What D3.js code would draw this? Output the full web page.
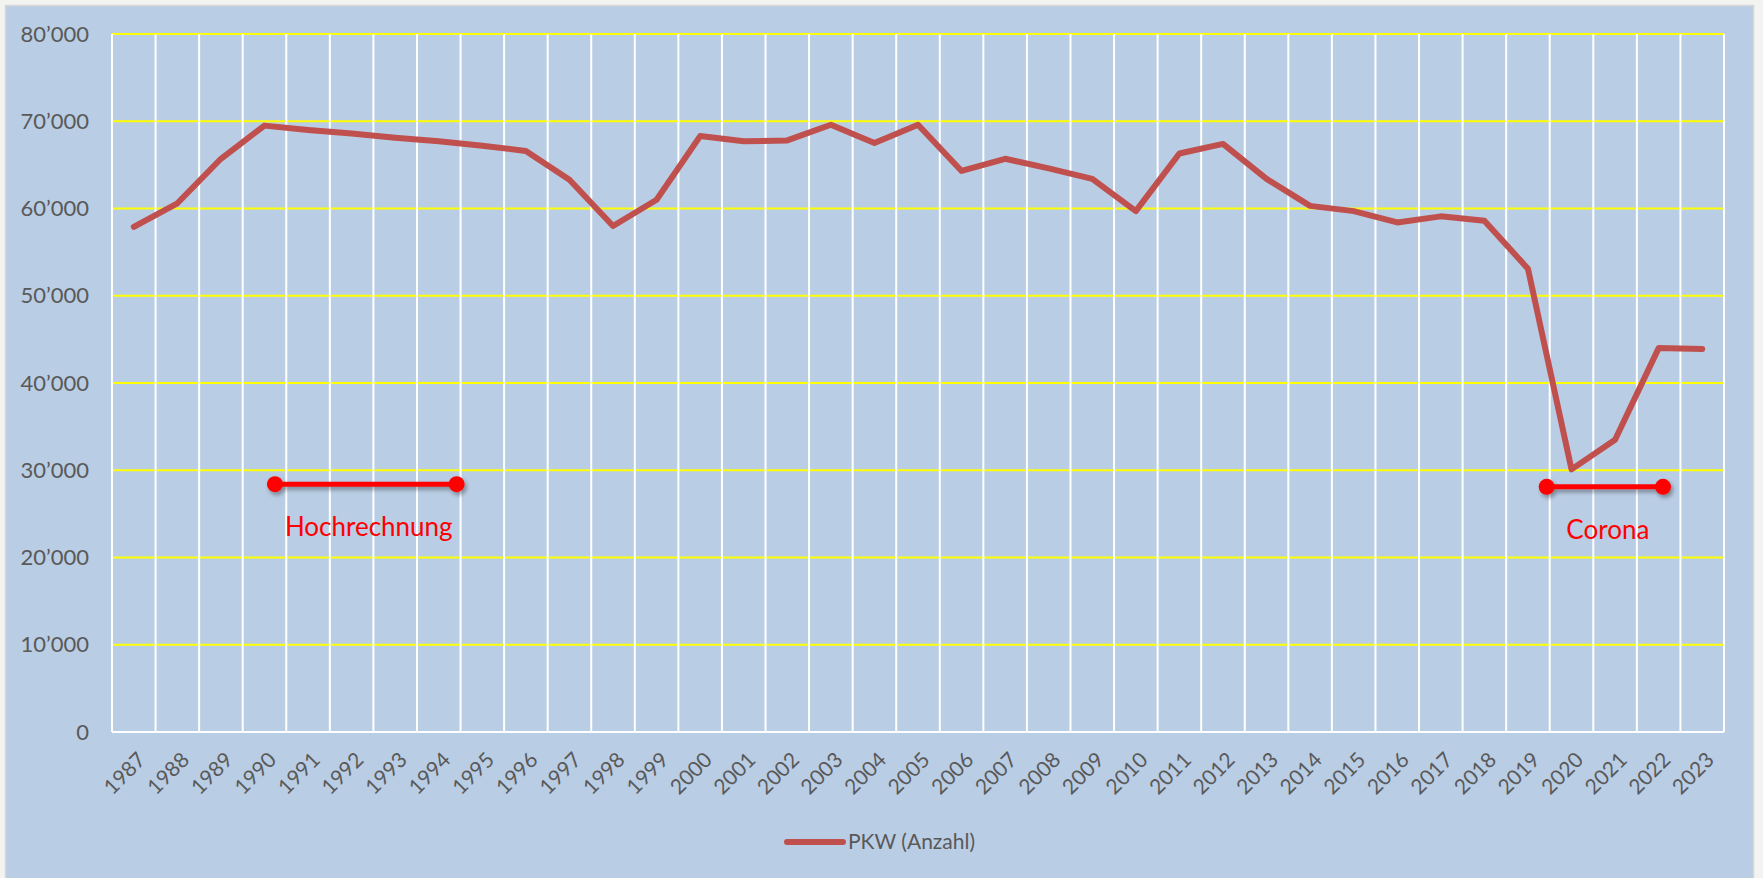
<!DOCTYPE html>
<html>
<head>
<meta charset="utf-8">
<script src="https://cdn.jsdelivr.net/npm/d3@7"></script>
<style>
    body { margin: 0; background: #f3f3f1; }
    svg { display: block; font-family: Lato, "Noto Sans", sans-serif; }
</style>
</head>
<body>
<div id="chart"></div>
<script>
// Data
// ==================================================================
const years = d3.range(1987, 2024).map(String);

const pkw = [
    57900, 60600, 65700, 69500, 69000, 68600, 68100, 67700, 67200, 66600,
    63300, 58000, 61000, 68300, 67700, 67800, 69600, 67500, 69600, 64300,
    65700, 64600, 63400, 59700, 66300, 67400, 63400, 60300, 59700, 58400,
    59100, 58600, 53100, 30100, 33500, 44000, 43900
];

const yTicks = [0, 10000, 20000, 30000, 40000, 50000, 60000, 70000, 80000];

const seriesName = "PKW (Anzahl)";

// annotations: start / end in year units (band start), level in cars
const noteLabels = ["Hochrechnung", "Corona"];
const noteFrom = [1990.74, 2019.93];
const noteTo = [1994.91, 2022.6];
const noteLevel = [28400, 28100];

// Layout
// ==================================================================
const W = 1763, H = 878,
    plot = {left: 112, right: 1724, top: 34, bottom: 732},
    textColor = "#595959",
    lineColor = "#C0504D";

// Scales
// ==================================================================
const x = d3.scaleBand()
    .domain(years)
    .range([plot.left, plot.right]);

const xYear = d3.scaleLinear()
    .domain([1987, 2024])
    .range([plot.left, plot.right]);

const y = d3.scaleLinear()
    .domain([0, 80000])
    .range([plot.bottom, plot.top]);

const fmt = d3.formatLocale({decimal: ".", thousands: "\u2019", grouping: [3], currency: ["", ""]}).format(",");

// Svg
// ==================================================================
const svg = d3.select("#chart")
    .append("svg")
        .attr("width", W)
        .attr("height", H);

const defs = svg.append("defs");
defs.append("filter")
        .attr("id", "shadow")
        .attr("x", "-20%").attr("y", "-100%")
        .attr("width", "140%").attr("height", "300%")
    .append("feDropShadow")
        .attr("dx", 2).attr("dy", 3)
        .attr("stdDeviation", 2.2)
        .attr("flood-color", "#000")
        .attr("flood-opacity", 0.35);

// chart area
svg.append("rect")
    .attr("x", 5.5).attr("y", 5.5)
    .attr("width", 1748).attr("height", H)
    .attr("fill", "#B9CDE4")
    .attr("stroke", "#d6d6d6")
    .attr("stroke-width", 1.5);

// Grid
// ==================================================================
svg.append("g")
    .selectAll("line")
    .data(yTicks.filter(d => d > 0))
    .join("line")
        .attr("x1", plot.left).attr("x2", plot.right)
        .attr("y1", d => y(d)).attr("y2", d => y(d))
        .attr("stroke", "#FFFF00")
        .attr("stroke-width", 2);

svg.append("g")
    .selectAll("line")
    .data(years.concat(["end"]))
    .join("line")
        .attr("x1", d => d === "end" ? plot.right : x(d))
        .attr("x2", d => d === "end" ? plot.right : x(d))
        .attr("y1", plot.top).attr("y2", plot.bottom)
        .attr("stroke", "#ffffff")
        .attr("stroke-width", 2);

svg.append("line")
    .attr("x1", plot.left).attr("x2", plot.right)
    .attr("y1", plot.bottom).attr("y2", plot.bottom)
    .attr("stroke", "#ffffff")
    .attr("stroke-width", 2);

// Axes
// ==================================================================
svg.append("g")
    .selectAll("text")
    .data(yTicks)
    .join("text")
        .attr("x", 89)
        .attr("y", d => y(d))
        .attr("dy", "0.35em")
        .attr("text-anchor", "end")
        .attr("font-size", "22px")
        .attr("fill", textColor)
        .text(d => fmt(d));

svg.append("g")
    .selectAll("text")
    .data(years)
    .join("text")
        .attr("transform", d => "translate(" + (x(d) + x.bandwidth() / 2 + 8) + "," + (plot.bottom + 24) + ") rotate(-45)")
        .attr("text-anchor", "end")
        .attr("dy", "0.35em")
        .attr("font-size", "21px")
        .attr("fill", textColor)
        .text(d => d);

// Series line
// ==================================================================
svg.append("path")
    .datum(pkw)
    .attr("fill", "none")
    .attr("stroke", lineColor)
    .attr("stroke-width", 6)
    .attr("stroke-linejoin", "round")
    .attr("stroke-linecap", "round")
    .attr("d", d3.line()
        .x((d, i) => x(years[i]) + x.bandwidth() / 2)
        .y(d => y(d)));

// Annotations
// ==================================================================
noteLabels.forEach((label, i) => {
    const g = svg.append("g").attr("filter", "url(#shadow)");
    g.append("line")
        .attr("x1", xYear(noteFrom[i])).attr("x2", xYear(noteTo[i]))
        .attr("y1", y(noteLevel[i])).attr("y2", y(noteLevel[i]))
        .attr("stroke", "#FF0000")
        .attr("stroke-width", 5);
    g.selectAll("circle")
        .data([noteFrom[i], noteTo[i]])
        .join("circle")
            .attr("cx", d => xYear(d))
            .attr("cy", y(noteLevel[i]))
            .attr("r", 8)
            .attr("fill", "#FF0000");

    svg.append("text")
        .attr("x", (xYear(noteFrom[i]) + xYear(noteTo[i])) / 2 + 3)
        .attr("y", y(noteLevel[i]) + 52)
        .attr("text-anchor", "middle")
        .attr("font-size", "26px")
        .attr("fill", "#FF0000")
        .text(label);
});

// Legend
// ==================================================================
const legend = svg.append("g")
    .attr("transform", "translate(787,842)");

legend.append("line")
    .attr("x1", 0).attr("x2", 56)
    .attr("y1", 0).attr("y2", 0)
    .attr("stroke", lineColor)
    .attr("stroke-width", 6)
    .attr("stroke-linecap", "round");

legend.append("text")
    .attr("x", 61)
    .attr("y", 0)
    .attr("dy", "0.35em")
    .attr("font-size", "21px")
    .attr("fill", textColor)
    .text(seriesName);
</script>
</body>
</html>
